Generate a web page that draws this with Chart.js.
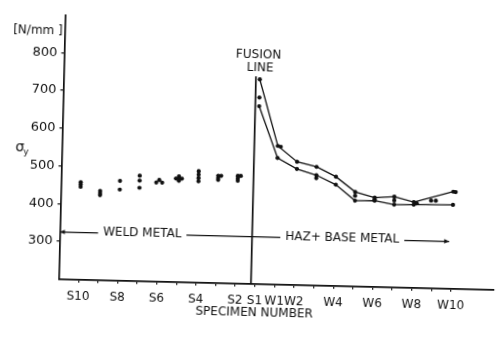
<!DOCTYPE html>
<html>
<head>
<meta charset="utf-8">
<script src="https://cdn.jsdelivr.net/npm/chart.js@4.4.1/dist/chart.umd.min.js"></script>
<style>
  html, body { margin: 0; padding: 0; background: #fff; overflow: hidden; }
  #wrap { width: 501px; height: 337px; transform: rotate(1.4deg); transform-origin: 50% 50%; }
</style>
</head>
<body>
<div id="wrap"><canvas id="chart"></canvas></div>
<script>
const INK  = '#111';
const FONT = "'DejaVu Sans', sans-serif";

// specimen slots along the x axis, S10 .. S1 then W1 .. W10
const specimens   = ['S10','S9','S8','S7','S6','S5','S4','S3','S2','S1','W1','W2','W3','W4','W5','W6','W7','W8','W9','W10'];
const shownLabels = ['S10','S8','S6','S4','S2','S1','W1','W2','W4','W6','W8','W10'];
const yTicks      = [300, 400, 500, 600, 700, 800];

// weld metal results (slot, yield stress)
const weldPos = [0,0,0, 1,1,1, 2,2, 3,3,3, 4,3.85,4.15, 5,5,5,4.85,5.15, 6,6,6,6, 7,7,7,7.15, 8,8,8,8.15];
const weldVal = [458,452,446, 436,430,425, 464,441, 479,466,447, 469,462,462, 480,474,468,474,474, 495,486,477,468, 484,478,473,484, 485,478,472,485];

// HAZ + base metal, S1 .. W10 (slots 9 .. 19)
const hazPos   = [9, 10, 11, 12, 13, 14, 15, 16, 17, 18, 19];
const hazUpper = [742, 567, 526, 514, 489, 450, 436, 440, 427, null, 457];
const hazLower = [671, 535, 507, 492, 468, 427, 428, 419, 420, null, 422];
const hazExtraPos = [9, 10.15, 12, 14, 15, 16, 17.15, 17.88, 18.12, 19.12];
const hazExtraVal = [694, 565, 484, 440, 432, 430, 424, 432, 432, 456];

const FUSION_X = 8.8, FUSION_TOP = 750;
const zoneY      = 325;
const zoneText   = ['WELD METAL', 'HAZ+ BASE METAL'];
const zoneCenter = [3.2, 13.4];
const zoneEnd    = [-1, 18.85];

const pts = (xs, ys) => xs.map((x, i) => ({ x, y: ys[i] }));

const dot = { showLine: false, pointRadius: 2.1, pointBackgroundColor: INK, pointBorderWidth: 0 };
const curve = { showLine: true, borderColor: INK, borderWidth: 1.3, pointRadius: 2.1,
  pointBackgroundColor: INK, pointBorderWidth: 0, spanGaps: true, tension: 0 };

function arrowHead(ctx, x, y, dir) {
  ctx.beginPath();
  ctx.moveTo(x, y);
  ctx.lineTo(x - dir * 5, y - 2.2);
  ctx.lineTo(x - dir * 5, y + 2.2);
  ctx.closePath();
  ctx.fill();
}

const notes = {
  id: 'notes',
  afterDatasetsDraw(chart) {
    const { ctx, chartArea: a, scales: { x, y } } = chart;
    ctx.save();
    ctx.fillStyle = INK; ctx.strokeStyle = INK; ctx.lineWidth = 1.3;
    ctx.textAlign = 'center'; ctx.textBaseline = 'middle';
    ctx.font = `12px ${FONT}`;

    const fx = x.getPixelForValue(FUSION_X);
    const ft = y.getPixelForValue(FUSION_TOP);
    ctx.fillText('FUSION', fx + 2, ft - 21);
    ctx.fillText('LINE', fx + 4, ft - 8);

    // zone arrows either side of the fusion line
    const zy = y.getPixelForValue(zoneY);
    zoneText.forEach((t, i) => {
      const cx = x.getPixelForValue(zoneCenter[i]);
      const half = ctx.measureText(t).width / 2 + 5;
      const end = x.getPixelForValue(zoneEnd[i]);
      const a1 = Math.min(fx, end), a2 = Math.max(fx, end);
      ctx.beginPath();
      ctx.moveTo(a1, zy); ctx.lineTo(cx - half, zy);
      ctx.moveTo(cx + half, zy); ctx.lineTo(a2, zy);
      ctx.stroke();
      arrowHead(ctx, end, zy, i === 0 ? -1 : 1);
      ctx.fillText(t, cx, zy - 1);
    });

    ctx.fillText('SPECIMEN NUMBER', x.getPixelForValue(9), 313);

    // y axis unit and symbol
    ctx.textAlign = 'right';
    ctx.fillText('[N/mm ]', a.left - 2, a.top + 16);
    ctx.textAlign = 'left';
    ctx.font = `14px ${FONT}`;
    ctx.fillText('σ', 15, (a.top + a.bottom) / 2 + 2);
    ctx.font = `9px ${FONT}`;
    ctx.fillText('y', 23, (a.top + a.bottom) / 2 + 6);
    ctx.restore();
  }
};

new Chart(document.getElementById('chart'), {
  type: 'scatter',
  data: {
    datasets: [
      { ...dot, data: pts(weldPos, weldVal) },
      { ...curve, data: pts(hazPos, hazUpper) },
      { ...curve, data: pts(hazPos, hazLower) },
      { ...dot, data: pts(hazExtraPos, hazExtraVal) },
      { showLine: true, borderColor: INK, borderWidth: 1.7, pointRadius: 0,
        data: [{ x: FUSION_X, y: 200 }, { x: FUSION_X, y: FUSION_TOP }] },
    ]
  },
  options: {
    responsive: true, maintainAspectRatio: false, animation: false,
    layout: { padding: { top: 19.6, right: 0, bottom: 0, left: 0 } },
    plugins: { legend: { display: false }, tooltip: { enabled: false } },
    scales: {
      x: {
        type: 'linear', min: -1, max: 21.2,
        afterFit: s => { s.height = 337 - 283.7; },
        afterBuildTicks: s => { s.ticks = specimens.map((_, i) => ({ value: i })); },
        ticks: {
          autoSkip: false, maxRotation: 0, padding: 7, color: INK,
          font: { family: FONT, size: 12 },
          callback: v => shownLabels.includes(specimens[v]) ? specimens[v] : ''
        },
        grid: { drawOnChartArea: false, tickLength: 3, color: INK, lineWidth: 1.2 },
        border: { color: INK, width: 1.7 }
      },
      y: {
        min: 200, max: 900,
        afterFit: s => { s.width = 61.5; },
        afterBuildTicks: s => { s.ticks = yTicks.map(v => ({ value: v })); },
        ticks: { padding: 4, color: INK, font: { family: FONT, size: 13 } },
        grid: { drawOnChartArea: false, tickLength: 3, color: INK, lineWidth: 1.2 },
        border: { color: INK, width: 1.7 }
      }
    }
  },
  plugins: [notes]
});
</script>
</body>
</html>
